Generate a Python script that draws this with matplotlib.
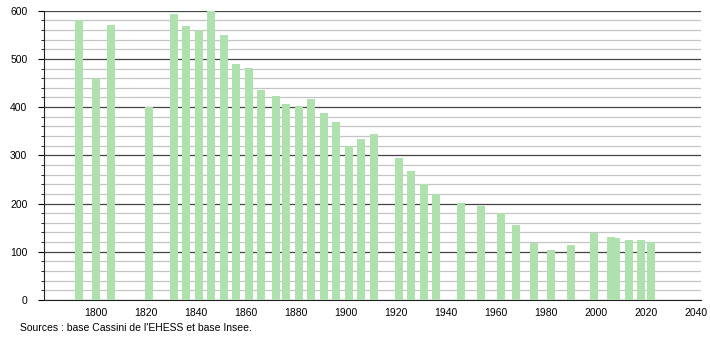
#!/usr/bin/env python

import numpy as np
import matplotlib.pyplot as plt
from matplotlib.ticker import MultipleLocator

years = [1793, 1800, 1806, 1821, 1831, 1836, 1841, 1846, 1851, 1856,
         1861, 1866, 1872, 1876, 1881, 1886, 1891, 1896, 1901, 1906,
         1911, 1921, 1926, 1931, 1936, 1946, 1954, 1962, 1968, 1975,
         1982, 1990, 1999, 2006, 2008, 2013, 2018, 2022]
population = [580, 460, 570, 400, 593, 568, 561, 605, 549, 490,
              481, 436, 423, 406, 402, 417, 387, 369, 319, 334,
              344, 294, 267, 240, 219, 201, 195, 180, 156, 119,
              104, 114, 138, 130, 128, 124, 124, 120]
xticks = [1800, 1820, 1840, 1860, 1880, 1900, 1920, 1940, 1960, 1980, 2000, 2020, 2040]
source = "Sources : base Cassini de l'EHESS et base Insee."

def main():
    plt.rcParams['font.family'] = ['Liberation Sans', 'DejaVu Sans']
    fig = plt.figure(figsize=(7.1, 3.4), dpi=100)
    ax = fig.add_axes([44/710, 40/340, (701-44)/710, 289.3/340])

    ax.bar(years, population, width=3.2, color="#afe1af", zorder=3)

    ax.set_xlim(1779.2, 2042)
    ax.set_ylim(0, 600)
    ax.set_xticks(xticks)
    ax.yaxis.set_major_locator(MultipleLocator(100))
    ax.yaxis.set_minor_locator(MultipleLocator(20))
    ax.grid(axis="y", which="major", color="#444444", linewidth=0.9, zorder=1)
    ax.grid(axis="y", which="minor", color="#c4c4c4", linewidth=0.9, zorder=0)
    ax.set_axisbelow(True)

    for s in ["top", "right"]:
        ax.spines[s].set_visible(False)
    ax.spines["left"].set_color("#222222")
    ax.spines["bottom"].set_color("#222222")
    ax.tick_params(axis="x", length=0, labelsize=7.5, pad=6)
    ax.tick_params(axis="y", which="major", length=4, labelsize=7.5, pad=8)
    ax.tick_params(axis="y", which="minor", length=2)

    fig.text(20/710, 1 - 328/340, source, fontsize=7.5, va="center", ha="left")
    fig.savefig("out.png", dpi=100)
    plt.close()

if __name__ == "__main__":
    main()
